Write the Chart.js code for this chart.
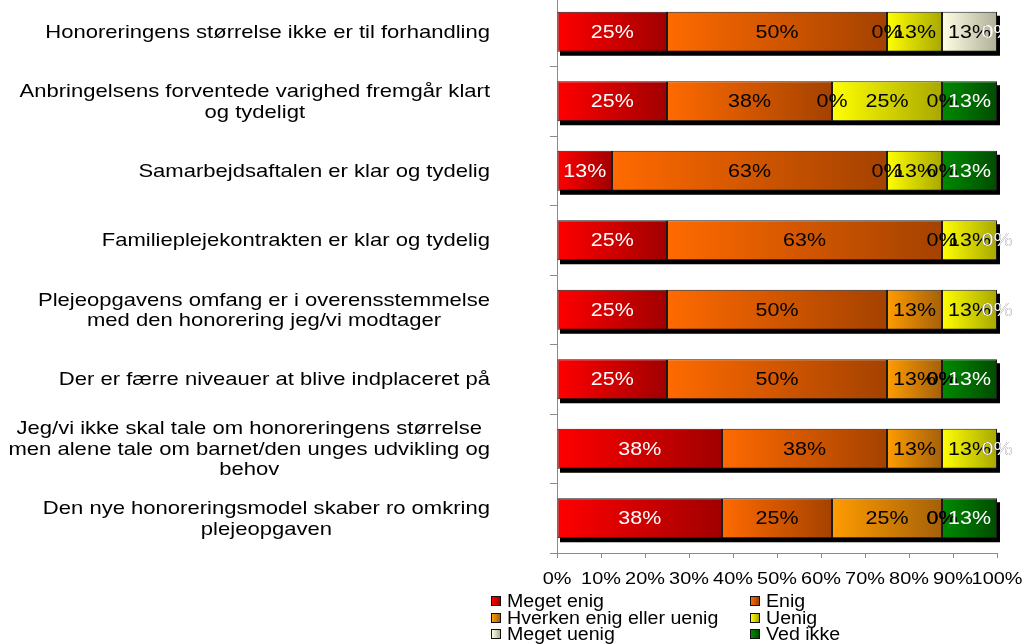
<!DOCTYPE html>
<html>
<head>
<meta charset="utf-8">
<script src="https://cdn.jsdelivr.net/npm/chart.js@4/dist/chart.umd.min.js"></script>
<style>
  html, body { margin: 0; padding: 0; background: #fff; }
  body { width: 1025px; height: 644px; position: relative; overflow: hidden; font-family: "Liberation Sans", Arial, sans-serif; }
  #wrap { position: absolute; left: 0; top: -3px; width: 1025px; height: 600px; }
  #legend { position: absolute; left: 491px; top: 593px; display: grid; grid-template-columns: 259px 200px; row-gap: 0; }
  .item { height: 16.5px; line-height: 16.5px; font-size: 17.5px; color: #000; white-space: nowrap; display: flex; align-items: center; }
  .box { width: 8px; height: 8px; border: 1px solid #111; margin-right: 6px; flex: none; }
  .txt { display: inline-block; transform: scaleX(1.12); transform-origin: left center; }
</style>
</head>
<body>
<div id="wrap"><canvas id="c" width="1025" height="600"></canvas></div>
<div id="legend"></div>
<script>
/* =========================================================
   1. Data
========================================================= */
const categories = [
  ['Honoreringens størrelse ikke er til forhandling'],
  ['Anbringelsens forventede varighed fremgår klart', 'og tydeligt'],
  ['Samarbejdsaftalen er klar og tydelig'],
  ['Familieplejekontrakten er klar og tydelig'],
  ['Plejeopgavens omfang er i overensstemmelse', 'med den honorering jeg/vi modtager'],
  ['Der er færre niveauer at blive indplaceret på'],
  ['Jeg/vi ikke skal tale om honoreringens størrelse', 'men alene tale om barnet/den unges udvikling og', 'behov'],
  ['Den nye honoreringsmodel skaber ro omkring', 'plejeopgaven']
];
const seriesNames = ['Meget enig', 'Enig', 'Hverken enig eller uenig', 'Uenig', 'Meget uenig', 'Ved ikke'];

// percent per answer (8 respondents -> steps of 12.5)
const megetEnig  = [25,   25,   12.5, 25,   25,   25,   37.5, 37.5];
const enig       = [50,   37.5, 62.5, 62.5, 50,   50,   37.5, 25];
const hverken    = [0,    0,    0,    0,    12.5, 12.5, 12.5, 25];
const uenig      = [12.5, 25,   12.5, 12.5, 12.5, 0,    12.5, 0];
const megetUenig = [12.5, 0,    0,    0,    0,    0,    0,    0];
const vedIkke    = [0,    12.5, 12.5, 0,    0,    12.5, 0,    12.5];

const xTicks = [0, 10, 20, 30, 40, 50, 60, 70, 80, 90, 100];

/* =========================================================
   2. Styling helpers
========================================================= */
const series = [megetEnig, enig, hverken, uenig, megetUenig, vedIkke];
// [light (left), dark (right)] per series
const grad = [
  ['#ff0000', '#a00000'],
  ['#ff6a00', '#a44200'],
  ['#ff9c00', '#a4600a'],
  ['#ffff00', '#a8a800'],
  ['#ffffe6', '#b0b098'],
  ['#008a00', '#004c00']
];
const labelCol = ['#fff', '#000', '#000', '#000', '#000', '#fff'];
const FONT = '"Liberation Sans", Arial, sans-serif';

const segFill = c => {
  const chart = c.chart, d = c.datasetIndex, i = c.dataIndex;
  if (c.type !== 'data' || !chart.chartArea) return grad[d][0];
  const xs = chart.scales.x;
  let start = 0;
  for (let k = 0; k < d; k++) start += series[k][i];
  const x0 = xs.getPixelForValue(start), x1 = xs.getPixelForValue(start + series[d][i]);
  if (x1 - x0 < 1) return grad[d][0];
  const g = chart.ctx.createLinearGradient(x0, 0, x1, 0);
  g.addColorStop(0, grad[d][0]);
  g.addColorStop(1, grad[d][1]);
  return g;
};

// draw text stretched wider, like the original
const wideText = (ctx, txt, x, y, sx) => {
  ctx.save();
  ctx.translate(x, y);
  ctx.scale(sx, 1);
  ctx.fillText(txt, 0, 0);
  ctx.restore();
};

/* =========================================================
   3. Plugins (shadow, labels)
========================================================= */
const shadowPlugin = {
  id: 'shadow',
  beforeDatasetsDraw(chart) {
    const { ctx } = chart, xs = chart.scales.x;
    const meta = chart.getDatasetMeta(0);
    ctx.save();
    ctx.fillStyle = '#000';
    meta.data.forEach((el, i) => {
      const tot = series.reduce((s, a) => s + a[i], 0);
      const x0 = xs.getPixelForValue(0), x1 = xs.getPixelForValue(tot);
      ctx.fillRect(x0 + 3, el.y - el.height / 2 + 4, x1 - x0, el.height);
    });
    ctx.restore();
  }
};

const textPlugin = {
  id: 'texts',
  afterDatasetsDraw(chart) {
    const { ctx } = chart;
    ctx.save();
    ctx.textBaseline = 'middle';
    ctx.textAlign = 'center';
    ctx.font = '18px ' + FONT;
    chart.data.datasets.forEach((ds, d) => {
      ctx.fillStyle = labelCol[d];
      chart.getDatasetMeta(d).data.forEach((el, i) => {
        wideText(ctx, Math.round(ds.data[i]) + '%', (el.x + el.base) / 2, el.y + 1, 1.19);
      });
    });
    ctx.restore();
  },
  afterDraw(chart) {
    const { ctx, chartArea } = chart, xs = chart.scales.x, ys = chart.scales.y;
    ctx.save();
    ctx.fillStyle = '#000';
    ctx.textBaseline = 'middle';
    ctx.textAlign = 'center';

    // x tick labels
    ctx.font = '17px ' + FONT;
    xTicks.forEach(v => wideText(ctx, v + '%', xs.getPixelForValue(v), chartArea.bottom + 26, 1.17));

    // category labels: block right aligned, lines centered
    ctx.font = '19px ' + FONT;
    const sx = 1.16, lh = 20.5, right = chartArea.left - 67;
    categories.forEach((lines, i) => {
      const w = Math.max(...lines.map(l => ctx.measureText(l).width)) * sx;
      const cx = right - w / 2;
      const y0 = ys.getPixelForValue(i) + 1 - (lines.length - 1) * lh / 2;
      lines.forEach((l, j) => wideText(ctx, l, cx, y0 + j * lh, sx));
    });
    ctx.restore();
  }
};

/* =========================================================
   4. Chart
========================================================= */
new Chart(document.getElementById('c'), {
  type: 'bar',
  data: {
    labels: categories,
    datasets: series.map((s, d) => ({
      label: seriesNames[d],
      data: s,
      backgroundColor: segFill,
      borderColor: '#1a1a1a',
      borderWidth: c => (series[c.datasetIndex][c.dataIndex] ? 1 : 0),
      borderSkipped: false,
      barPercentage: 0.576,
      categoryPercentage: 1
    }))
  },
  options: {
    indexAxis: 'y',
    responsive: false,
    animation: false,
    layout: { padding: { top: 0, right: 28, bottom: 4, left: 0 } },
    plugins: { legend: { display: false }, tooltip: { enabled: false } },
    scales: {
      x: {
        stacked: true, min: 0, max: 100,
        ticks: { display: false, stepSize: 10 },
        grid: { drawOnChartArea: false, drawTicks: true, tickLength: 5, color: '#8a8a8a' },
        border: { color: '#8a8a8a', width: 1 },
        afterFit: s => { s.height = 40; }
      },
      y: {
        stacked: true,
        ticks: { display: false },
        grid: { offset: true, drawOnChartArea: false, drawTicks: true, tickLength: 7, color: '#8a8a8a' },
        border: { color: '#8a8a8a', width: 1 },
        afterFit: s => { s.width = 557; }
      }
    }
  },
  plugins: [shadowPlugin, textPlugin]
});

/* ---- legend (two columns) ---- */
const legendOrder = [0, 1, 2, 3, 4, 5];
document.getElementById('legend').innerHTML = legendOrder.map(d =>
  `<div class="item"><span class="box" style="background:linear-gradient(90deg, ${grad[d][0]}, ${grad[d][1]})"></span><span class="txt">${seriesNames[d]}</span></div>`
).join('');
</script>
</body>
</html>
